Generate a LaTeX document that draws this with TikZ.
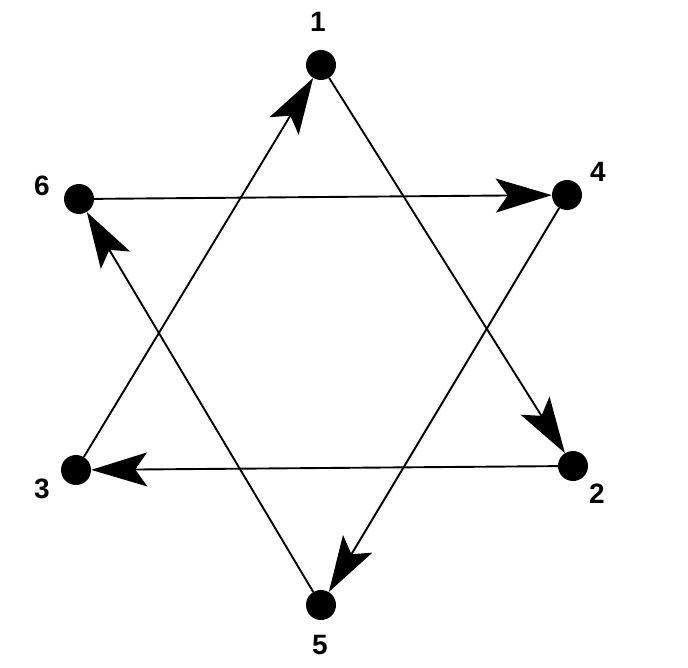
\documentclass[tikz,border=0pt]{standalone}
\usepackage{fontspec}
\setmainfont{Liberation Sans}
\usetikzlibrary{arrows.meta}
\begin{document}
\begin{tikzpicture}[x=1pt,y=-1pt,
  dot/.style={circle,fill=black,inner sep=0pt,minimum size=30pt},
  lbl/.style={font=\fontsize{28}{28}\selectfont\bfseries},
  edge/.style={line width=1.9pt,-{Stealth[length=56pt,width=34pt,inset=12pt]}}]
\useasboundingbox (0,0) rectangle (688,668);
\node[dot] (n1) at (321,65) {};
\node[dot] (n4) at (567,195) {};
\node[dot] (n6) at (79,199) {};
\node[dot] (n2) at (573,466) {};
\node[dot] (n3) at (76,470) {};
\node[dot] (n5) at (321,605) {};
\node[lbl] (l1) at (318,22) {1};
\node[lbl] (l4) at (598,172) {4};
\node[lbl] (l6) at (42,186) {6};
\node[lbl] (l2) at (597,494) {2};
\node[lbl] (l3) at (42,489) {3};
\node[lbl] (l5) at (320,645) {5};
\draw[edge] (n3) -- (n1);
\draw[edge] (n1) -- (n2);
\draw[edge] (n2) -- (n3);
\draw[edge] (n6) -- (n4);
\draw[edge] (n4) -- (n5);
\draw[edge] (n5) -- (n6);
\end{tikzpicture}
\end{document}
